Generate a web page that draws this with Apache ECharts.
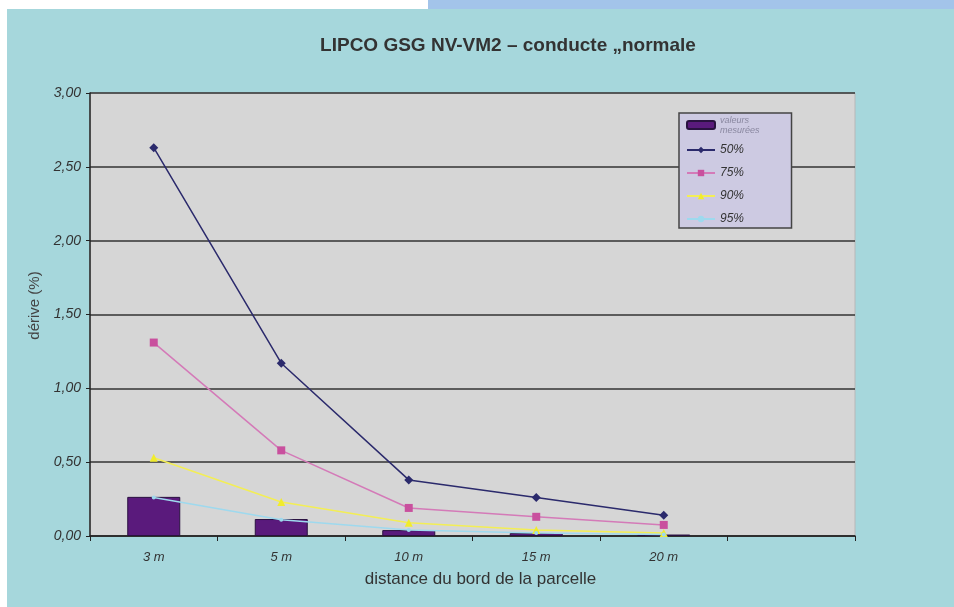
<!DOCTYPE html>
<html><head><meta charset="utf-8">
<script src="https://cdn.jsdelivr.net/npm/echarts@6/dist/echarts.min.js"></script>
<style>html,body{margin:0;padding:0;background:#fff}#c{width:954px;height:607px}</style>
</head><body><div id="c"></div>
<script>
const categories = ['3 m', '5 m', '10 m', '15 m', '20 m', ''];
const yTicks = [0, 0.5, 1, 1.5, 2, 2.5, 3];
const measured = [0.265, 0.115, 0.04, 0.02, 0.01];
const p50 = [2.63, 1.17, 0.38, 0.26, 0.14];
const p75 = [1.31, 0.58, 0.19, 0.13, 0.075];
const p90 = [0.53, 0.23, 0.09, 0.04, 0.02];
const p95 = [0.26, 0.11, 0.04, 0.02, 0.01];

const chart = echarts.init(document.getElementById('c'));
const FONT = '"Liberation Sans", Arial, sans-serif';
chart.setOption({
  backgroundColor: '#ffffff',
  animation: false,
  textStyle: { fontFamily: FONT },
  graphic: [
    { type: 'rect', z: -10, shape: { x: 7, y: 9, width: 947, height: 598 }, style: { fill: '#a6d7dc' } },
    { type: 'rect', z: -10, shape: { x: 428, y: 0, width: 526, height: 9 }, style: { fill: '#a3c4ea' } }
  ],
  title: {
    text: 'LIPCO GSG NV-VM2 – conducte „normale',
    left: 503, top: 31, textAlign: 'center',
    textStyle: { fontFamily: FONT, fontSize: 19, fontWeight: 'bold', color: '#333333' }
  },
  legend: {
    orient: 'vertical', left: 679, top: 113, width: 113, height: 115,
    backgroundColor: '#cdcae2', borderColor: '#444', borderWidth: 1.5,
    padding: [2, 32, 1, 7], itemGap: 7, itemWidth: 28, itemHeight: 8,
    textStyle: { fontFamily: FONT, fontSize: 12, lineHeight: 16, fontStyle: 'italic', color: '#333' },
    data: [
      { name: 'valeurs\nmesurées', textStyle: { color: '#8a88a0', fontSize: 9, lineHeight: 10 } },
      '50%', '75%', '90%', '95%'
    ]
  },
  grid: { left: 90, right: 99, top: 93, bottom: 71, show: true, backgroundColor: '#d6d6d6', borderColor: '#b8b8b8', borderWidth: 1 },
  xAxis: {
    type: 'category', data: categories, boundaryGap: true,
    name: 'distance du bord de la parcelle', nameLocation: 'middle', nameGap: 35,
    nameTextStyle: { fontFamily: FONT, fontSize: 17, color: '#333', padding: [0, 0, 0, 16] },
    axisLine: { lineStyle: { color: '#222', width: 1.5 } },
    axisTick: { show: true, alignWithLabel: false, length: 5, lineStyle: { color: '#222' } },
    axisLabel: { margin: 15, fontSize: 13, fontStyle: 'italic', color: '#333' }
  },
  yAxis: {
    type: 'value', min: yTicks[0], max: yTicks[yTicks.length - 1], interval: 0.5,
    name: 'dérive (%)', nameLocation: 'middle', nameGap: 47,
    nameTextStyle: { fontFamily: FONT, fontSize: 15, color: '#444', padding: [0, 0, 0, 18] },
    axisLine: { show: true, lineStyle: { color: '#222', width: 1.5 } },
    axisTick: { show: true, length: 4, lineStyle: { color: '#222' } },
    axisLabel: { margin: 9, fontSize: 14, fontStyle: 'italic', color: '#333',
      formatter: v => v.toFixed(2).replace('.', ',') },
    splitLine: { lineStyle: { color: '#333', width: 1.5 } }
  },
  series: [
    { name: 'valeurs\nmesurées', type: 'bar', data: measured, barWidth: 53,
      itemStyle: { color: '#5a1a7c', borderColor: '#2a1240', borderWidth: 1 }, z: 2 },
    { name: '50%', type: 'line', data: p50, symbol: 'diamond', symbolSize: 9,
      lineStyle: { color: '#2b2a6c', width: 1.5 }, itemStyle: { color: '#2b2a6c' }, z: 5 },
    { name: '75%', type: 'line', data: p75, symbol: 'rect', symbolSize: 8,
      lineStyle: { color: '#d47ab8', width: 1.5 }, itemStyle: { color: '#c9509e' }, z: 4 },
    { name: '90%', type: 'line', data: p90, symbol: 'triangle', symbolSize: 8,
      lineStyle: { color: '#f3ee55', width: 1.5 }, itemStyle: { color: '#f1ec2c' }, z: 4 },
    { name: '95%', type: 'line', data: p95, symbol: 'circle', symbolSize: 4,
      lineStyle: { color: '#9ed9ee', width: 1.5 }, itemStyle: { color: '#9ed9ee' }, z: 4 }
  ]
});
</script></body></html>
